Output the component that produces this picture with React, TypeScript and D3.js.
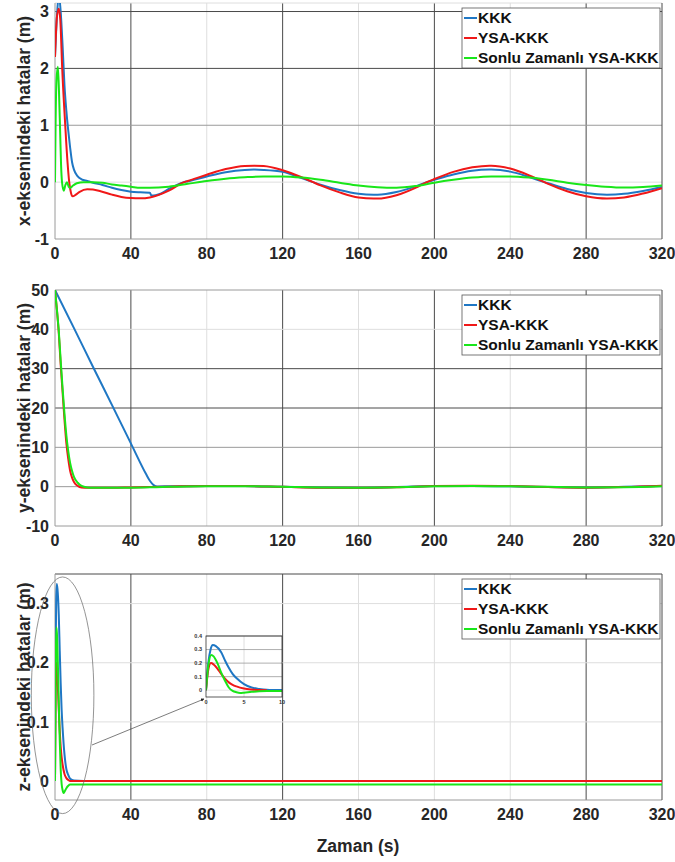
import React from 'react';
import * as d3 from 'd3';

type Pt = [number, number];

const timeTicks = [0, 40, 80, 120, 160, 200, 240, 280, 320];
const seriesNames = ['KKK', 'YSA-KKK', 'Sonlu Zamanlı YSA-KKK'];
const seriesColors = ['#1f77c4', '#f01818', '#19e619'];

// x-axis errors
const xKKK: Pt[] = [
  [0, 2.2], [1, 2.9], [2, 3.3], [3, 3.0], [4, 2.4], [5, 1.7], [6, 1.25], [7, 0.9], [8, 0.6], [9, 0.35],
  [10, 0.22], [12, 0.1], [14, 0.05], [17, 0.02], [20, -0.01], [25, -0.05], [30, -0.1], [35, -0.14],
  [40, -0.17], [45, -0.18], [50, -0.185], [50.8, -0.235], [53, -0.23], [56, -0.2], [60, -0.12],
  [68, 0.0], [70, 0.015], [80, 0.1], [90, 0.175], [100, 0.215], [105, 0.22], [110, 0.215], [120, 0.18],
  [130, 0.07], [136, 0.0], [140, -0.045], [150, -0.14], [160, -0.205], [168, -0.22], [170, -0.22],
  [180, -0.175], [190, -0.075], [196, 0.0], [200, 0.04], [210, 0.135], [220, 0.2], [229, 0.22],
  [230, 0.22], [240, 0.185], [250, 0.09], [258, 0.0], [260, -0.02], [270, -0.12], [280, -0.19],
  [291, -0.22], [300, -0.205], [310, -0.155], [320, -0.085],
];
const xYSA: Pt[] = [
  [0, 2.2], [1, 2.9], [2, 3.05], [2.8, 2.85], [3.8, 2.0], [5.4, 1.0], [6.6, 0.35], [7.5, 0.0],
  [8.5, -0.2], [9.3, -0.25], [11, -0.22], [13, -0.17], [17, -0.125], [20, -0.13], [24, -0.16],
  [30, -0.22], [35, -0.26], [40, -0.28], [45, -0.285], [50, -0.27], [60, -0.15], [68, 0.0], [70, 0.02],
  [80, 0.13], [90, 0.23], [100, 0.285], [105, 0.29], [110, 0.285], [120, 0.21], [130, 0.087],
  [136, 0.0], [140, -0.057], [150, -0.18], [160, -0.27], [168, -0.29], [170, -0.29], [180, -0.23],
  [190, -0.1], [196, 0.0], [200, 0.055], [210, 0.18], [220, 0.26], [229, 0.29], [230, 0.29],
  [240, 0.24], [250, 0.12], [258, 0.0], [260, -0.03], [270, -0.16], [280, -0.25], [291, -0.29],
  [300, -0.27], [310, -0.2], [320, -0.105],
];
const xSZ: Pt[] = [
  [0, 0.0], [0.3, 1.0], [0.8, 1.8], [1.5, 2.03], [2.1, 1.6], [2.7, 0.9], [3.2, 0.3], [3.7, 0.0],
  [4.6, -0.15], [5.5, -0.05], [6.3, 0.0], [7.2, -0.08], [8, -0.1], [9.5, -0.06], [11.5, -0.02],
  [15, 0.0], [20, 0.0], [25, -0.01], [30, -0.04], [35, -0.06], [40, -0.08], [45, -0.1], [50, -0.1],
  [60, -0.08], [70, -0.03], [80, 0.02], [90, 0.06], [100, 0.085], [110, 0.1], [120, 0.1], [130, 0.08],
  [140, 0.04], [150, -0.01], [160, -0.06], [170, -0.09], [180, -0.1], [190, -0.07], [200, -0.01],
  [210, 0.04], [220, 0.08], [230, 0.1], [240, 0.1], [250, 0.08], [260, 0.04], [270, -0.01],
  [280, -0.05], [290, -0.08], [300, -0.095], [310, -0.085], [320, -0.06],
];

// y-axis errors
const yKKK: Pt[] = [
  [0, 50], [10, 40.3], [20, 30.5], [30, 20.8], [40, 11], [48, 3.2], [50, 1.5], [52, 0.4], [54, 0.05],
  [60, 0.1], [80, 0.2], [100, 0.15], [120, -0.05], [140, -0.2], [160, -0.25], [180, -0.1], [200, 0.15],
  [220, 0.2], [240, 0.1], [260, -0.1], [280, -0.2], [300, -0.05], [320, 0.2],
];
const yYSA: Pt[] = [
  [0, 50], [1, 45], [2, 39], [3, 31], [4, 24], [5, 17], [6, 11], [7, 7], [8, 4], [9, 2.3], [10, 1.2],
  [12, 0.2], [14, -0.2], [17, -0.3], [20, -0.3], [30, -0.3], [40, -0.2], [50, -0.1], [60, 0.0],
  [80, 0.2], [100, 0.15], [120, -0.05], [140, -0.25], [160, -0.3], [180, -0.15], [200, 0.15],
  [220, 0.25], [240, 0.15], [260, -0.1], [280, -0.25], [300, -0.1], [320, 0.25],
];
const ySZ: Pt[] = [
  [0, 50], [1, 45], [2, 39.5], [3, 32], [4, 25], [5, 18.5], [6, 13], [7, 9], [8, 6], [9, 4], [10, 2.5],
  [12, 1], [14, 0.2], [17, -0.2], [20, -0.3], [30, -0.3], [40, -0.25], [50, -0.15], [60, -0.05],
  [80, 0.1], [100, 0.1], [120, 0.0], [140, -0.2], [160, -0.25], [180, -0.15], [200, 0.1],
  [220, 0.2], [240, 0.1], [260, -0.05], [280, -0.2], [300, -0.15], [320, 0.1],
];

// z-axis errors
const zKKK: Pt[] = [
  [0, 0.0], [0.3, 0.2], [0.6, 0.3], [0.9, 0.333], [1.3, 0.325], [2, 0.28], [2.5, 0.22], [3, 0.165],
  [3.5, 0.12], [4, 0.09], [5, 0.045], [6, 0.02], [7, 0.01], [8, 0.004], [10, 0.001], [20, 0.0], [320, 0.0],
];
const zYSA: Pt[] = [
  [0, 0.0], [0.3, 0.15], [0.65, 0.2], [1, 0.19], [1.5, 0.16], [2, 0.12], [2.5, 0.085], [3, 0.058],
  [3.5, 0.04], [4, 0.028], [5, 0.012], [6, 0.005], [7, 0.002], [8, 0.0], [20, 0.0], [320, 0.0],
];
const zSZ: Pt[] = [
  [0, 0.0], [0.3, 0.18], [0.7, 0.26], [1, 0.25], [1.5, 0.2], [2, 0.13], [2.5, 0.07], [3, 0.02],
  [3.5, -0.005], [4, -0.015], [4.5, -0.02], [5, -0.018], [6, -0.012], [7, -0.008], [8, -0.006],
  [10, -0.006], [20, -0.006], [320, -0.006],
];

const insetXTicks = [0, 5, 10];
const insetYTicks = [0, 0.1, 0.2, 0.3, 0.4];

const DARK = '#4a4a4a';
const MID = '#9a9a9a';
const LIGHT = '#dedede';

const panels = [
  {
    label: 'x-eksenindeki hatalar (m)',
    top: 3, bottom: 239, domain: [-1, 3.15],
    yTicks: [-1, 0, 1, 2, 3], yFmt: (d: number) => String(d),
    yGrid: [[3, DARK], [2, DARK], [1, MID], [0, LIGHT]],
    xGrid: [[40, DARK], [80, LIGHT], [120, DARK], [160, LIGHT], [200, DARK], [240, LIGHT], [280, DARK]],
    series: [xKKK, xYSA, xSZ], topBorder: LIGHT,
  },
  {
    label: 'y-eksenindeki hatalar (m)',
    top: 290, bottom: 526, domain: [-10, 50],
    yTicks: [-10, 0, 10, 20, 30, 40, 50], yFmt: (d: number) => String(d),
    yGrid: [[40, LIGHT], [30, DARK], [20, DARK], [10, MID], [0, MID]],
    xGrid: [[40, DARK], [80, LIGHT], [120, DARK], [160, LIGHT], [200, DARK], [240, LIGHT], [280, DARK]],
    series: [yKKK, yYSA, ySZ], topBorder: MID,
  },
  {
    label: 'z-eksenindeki hatalar (m)',
    top: 574, bottom: 800, domain: [-0.032, 0.35],
    yTicks: [0, 0.1, 0.2, 0.3], yFmt: (d: number) => (d === 0 ? '0' : d3.format('.1f')(d)),
    yGrid: [[0.3, LIGHT], [0.2, LIGHT], [0.1, LIGHT]],
    xGrid: [[40, DARK], [80, LIGHT], [120, DARK], [160, LIGHT], [200, LIGHT], [240, LIGHT], [280, DARK]],
    series: [zKKK, zYSA, zSZ], topBorder: DARK,
  },
];

const left = 55;
const right = 662;
const font = '"Liberation Sans", Arial, sans-serif';
const textColor = '#262626';

export default function App() {
  const x = d3.scaleLinear().domain([0, 320]).range([left, right]);

  // inset axes
  const ix = d3.scaleLinear().domain([0, 10]).range([206, 282]);
  const iy = d3.scaleLinear().domain([-0.05, 0.4]).range([697, 636]);
  const insetLine = d3.line<Pt>().x(d => ix(d[0])).y(d => iy(d[1])).curve(d3.curveMonotoneX);

  const zy = d3.scaleLinear().domain(panels[2].domain).range([panels[2].bottom, panels[2].top]);
  const ellCx = x(4), ellCy = zy(0.145);
  const ellRx = x(20.5) - x(4), ellRy = zy(0.145) - zy(0.345);

  return (
    <svg width={675} height={862} style={{ position: 'absolute', left: 0, top: 0, background: '#fff' }}
      fontFamily={font}>
      <defs>
        {panels.map((p, i) => (
          <clipPath id={`clip${i}`} key={i}>
            <rect x={left} y={p.top} width={right - left} height={p.bottom - p.top} />
          </clipPath>
        ))}
        <clipPath id="clipInset">
          <rect x={206} y={636} width={76} height={61} />
        </clipPath>
        <marker id="arr" viewBox="0 0 10 10" refX="9" refY="5" markerWidth="5" markerHeight="5" orient="auto">
          <path d="M0,0 L10,5 L0,10 z" fill="#222" />
        </marker>
      </defs>
      {panels.map((p, i) => {
        const y = d3.scaleLinear().domain(p.domain).range([p.bottom, p.top]);
        const line = d3.line<Pt>().x(d => x(d[0])).y(d => y(d[1])).curve(d3.curveMonotoneX);
        return (
          <g key={i}>
            {p.xGrid.map(([t, c]) => (
              <line key={`gx${t}`} x1={x(t as number)} x2={x(t as number)} y1={p.top} y2={p.bottom}
                stroke={c as string} strokeWidth={1} />
            ))}
            {p.yGrid.map(([v, c]) => (
              <line key={`gy${v}`} x1={left} x2={right} y1={y(v as number)} y2={y(v as number)}
                stroke={c as string} strokeWidth={1} />
            ))}
            <line x1={left} x2={right} y1={p.top} y2={p.top} stroke={p.topBorder} />
            <line x1={left} x2={right} y1={p.bottom} y2={p.bottom} stroke={MID} />
            <line x1={left} x2={left} y1={p.top} y2={p.bottom} stroke={MID} />
            <line x1={right} x2={right} y1={p.top} y2={p.bottom} stroke={DARK} />
            <g clipPath={`url(#clip${i})`}>
              {p.series.map((s, k) => (
                <path key={k} d={line(s) || ''} fill="none" stroke={seriesColors[k]} strokeWidth={2} />
              ))}
            </g>
            {p.yTicks.map(v => (
              <text key={`yt${v}`} x={left - 6} y={y(v)} dy="0.35em" textAnchor="end" fontSize={16}
                fontWeight="bold" fill={textColor}>{p.yFmt(v)}</text>
            ))}
            {timeTicks.map(t => (
              <text key={`xt${t}`} x={x(t)} y={p.bottom + 20} textAnchor="middle" fontSize={16}
                fontWeight="bold" fill={textColor}>{t}</text>
            ))}
            <text transform={`translate(30,${(p.top + p.bottom) / 2}) rotate(-90)`} textAnchor="middle"
              fontSize={17.5} fontWeight="bold" fill={textColor}>{p.label}</text>
            <g transform={`translate(462,${p.top + 5})`}>
              <rect x={0} y={0} width={198} height={60} fill="#fff" stroke="#555" strokeWidth={0.8} />
              {seriesNames.map((n, k) => (
                <g key={n} transform={`translate(0,${10 + k * 20})`}>
                  <line x1={2} x2={15} y1={0} y2={0} stroke={seriesColors[k]} strokeWidth={2} />
                  <text x={16} y={0} dy="0.35em" fontSize={15.5} fontWeight="bold" fill="#111">{n}</text>
                </g>
              ))}
            </g>
          </g>
        );
      })}

      {/* zoom annotation on z panel */}
      <ellipse cx={ellCx} cy={ellCy} rx={ellRx} ry={ellRy} fill="none" stroke="#666" strokeWidth={0.7} />
      <line x1={92} y1={745} x2={204} y2={699} stroke="#444" strokeWidth={0.7} markerEnd="url(#arr)" />

      <g>
        <rect x={206} y={636} width={76} height={61} fill="#fff" />
        <line x1={ix(5)} x2={ix(5)} y1={636} y2={697} stroke={LIGHT} />
        {insetYTicks.map(v => (
          <line key={v} x1={206} x2={282} y1={iy(v)} y2={iy(v)} stroke={v === 0 ? LIGHT : MID} strokeWidth={0.8} />
        ))}
        <g clipPath="url(#clipInset)">
          {[zKKK, zYSA, zSZ].map((s, k) => (
            <path key={k} d={insetLine(s.filter(d => d[0] <= 12)) || ''} fill="none" stroke={seriesColors[k]}
              strokeWidth={2} />
          ))}
        </g>
        <rect x={206} y={636} width={76} height={61} fill="none" stroke="#333" strokeWidth={0.8} />
        {insetYTicks.map(v => (
          <text key={v} x={202} y={iy(v)} dy="0.35em" textAnchor="end" fontSize={5.5} fontWeight="bold"
            fill="#333">{v === 0 ? '0' : v.toFixed(1)}</text>
        ))}
        {insetXTicks.map(t => (
          <text key={t} x={ix(t)} y={704} textAnchor="middle" fontSize={5.5} fontWeight="bold" fill="#333">{t}</text>
        ))}
      </g>

      <text x={358} y={852} textAnchor="middle" fontSize={17.5} fontWeight="bold" fill={textColor}>Zaman (s)</text>
    </svg>
  );
}
